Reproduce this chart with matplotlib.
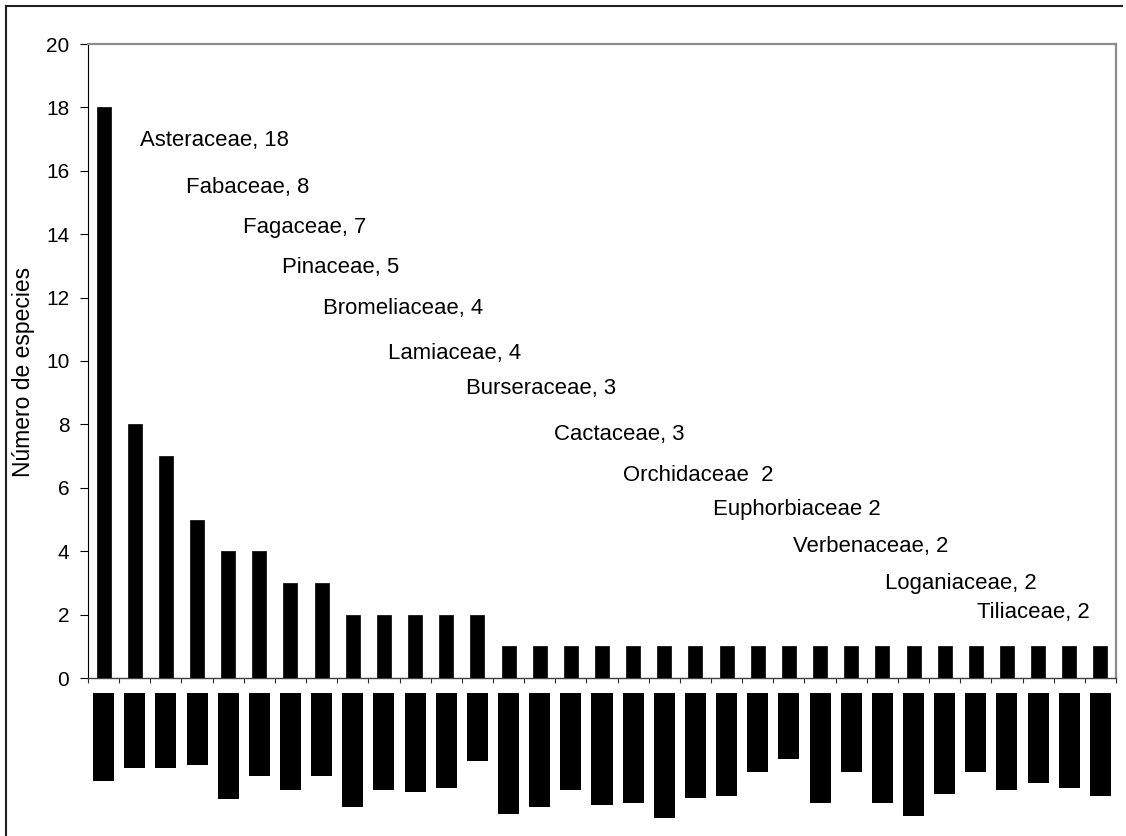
import matplotlib
matplotlib.use("Agg")
import matplotlib.pyplot as plt
from matplotlib.lines import Line2D

plt.rcParams['font.family'] = ['Liberation Sans', 'DejaVu Sans']

# Species per plant family (families with more than one species are named)
named_families = ["Asteraceae", "Fabaceae", "Fagaceae", "Pinaceae", "Bromeliaceae",
                  "Lamiaceae", "Burseraceae", "Cactaceae", "Orchidaceae",
                  "Euphorbiaceae", "Verbenaceae", "Loganiaceae", "Tiliaceae"]
species_counts = [18, 8, 7, 5, 4, 4, 3, 3, 2, 2, 2, 2, 2,
                  1, 1, 1, 1, 1, 1, 1, 1, 1, 1, 1, 1, 1, 1, 1, 1, 1, 1, 1, 1]
label_separators = [", ", ", ", ", ", ", ", ", ", ", ", ", ", ", ", "  ", " ",
                    ", ", ", ", ", "]

# Lengths (pixels) of the blacked-out category labels under the axis
hidden_label_lengths = [88, 75, 75, 72, 106, 83, 97, 83, 114, 97, 99, 95, 68,
                        121, 114, 97, 112, 110, 125, 105, 103, 79, 66, 110, 79,
                        110, 123, 101, 79, 97, 90, 95, 103]

y_ticks = [0, 2, 4, 6, 8, 10, 12, 14, 16, 18, 20]

# Placement of the family annotations (data coords: left edge, baseline)
annot_x = [1.17, 2.64, 4.48, 5.72, 7.05, 9.13, 11.63, 14.46, 16.67, 19.56,
           22.13, 25.08, 28.04]
annot_y = [16.77, 15.29, 14.04, 12.79, 11.47, 10.05, 8.97, 7.52, 6.23, 5.13,
           3.99, 2.82, 1.88]

W, H = 1126, 836
fig = plt.figure(figsize=(W / 100, H / 100), dpi=100)
fig.patch.set_facecolor("white")

ax_left, ax_right, ax_top, ax_bottom = 88, 1116, 44, 678
ax = fig.add_axes([ax_left / W, 1 - ax_bottom / H,
                   (ax_right - ax_left) / W, (ax_bottom - ax_top) / H])

n = len(species_counts)
xs = list(range(n))
ax.bar(xs, species_counts, width=0.45, color="black", edgecolor="black",
       linewidth=0.5, zorder=3)

ax.set_xlim(-0.5, n - 0.5)
ax.set_ylim(0, 20)
ax.set_yticks(y_ticks)
ax.set_yticklabels([str(t) for t in y_ticks])
ax.set_xticks([i - 0.5 for i in range(n + 1)])
ax.set_xticklabels([])

ax.tick_params(axis="y", direction="out", length=5.5, width=0.8, color="black",
               labelsize=15, pad=8)
ax.tick_params(axis="x", direction="out", length=3.8, width=0.8, color="#303030")

ax.spines["left"].set_color("black")
ax.spines["left"].set_linewidth(0.8)
ax.spines["bottom"].set_color("#404040")
ax.spines["bottom"].set_linewidth(1.0)
for side in ("top", "right"):
    ax.spines[side].set_color("#8c8c8c")
    ax.spines[side].set_linewidth(1.6)

ax.set_ylabel("Número de especies", fontsize=16.5)
ax.yaxis.set_label_coords(-0.052, 0.483)

for fam, cnt, sep, tx, ty in zip(named_families, species_counts, label_separators,
                                 annot_x, annot_y):
    ax.text(tx, ty, f"{fam}{sep}{cnt}", ha="left", va="baseline",
            fontsize=15.9, color="black", zorder=4)

# Category labels rendered as solid blocks below the axis
block_top = 693
ax2 = fig.add_axes([ax_left / W, 0, (ax_right - ax_left) / W, (H - block_top) / H])
ax2.set_xlim(-0.5, n - 0.5)
ax2.set_ylim(H - block_top, 0)
ax2.bar(xs, hidden_label_lengths, width=0.675, color="black", linewidth=0)
ax2.axis("off")

# Outer chart frame (left and top edges)
fig.add_artist(Line2D([6 / W, 1122 / W], [1 - 6 / H, 1 - 6 / H],
                      transform=fig.transFigure, color="#202020", linewidth=1.5))
fig.add_artist(Line2D([6 / W, 6 / W], [1 - 6 / H, 0],
                      transform=fig.transFigure, color="#202020", linewidth=1.5))

fig.savefig("out.png", dpi=100, facecolor="white")
